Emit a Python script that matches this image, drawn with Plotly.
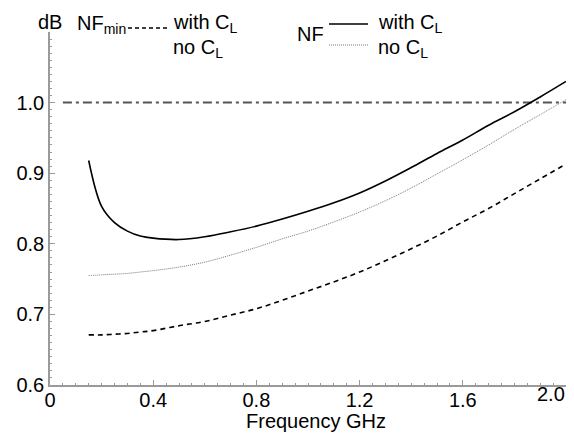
import plotly.graph_objects as go

# ---- data ----
freq = [0.15, 0.2, 0.25, 0.3, 0.35, 0.4, 0.5, 0.6, 0.7, 0.8, 0.9, 1.0,
        1.1, 1.2, 1.3, 1.4, 1.5, 1.6, 1.7, 1.8, 1.9, 2.0]
nf_with_cl = [0.918, 0.853, 0.830, 0.818, 0.811, 0.808, 0.806, 0.810, 0.817,
              0.825, 0.835, 0.846, 0.858, 0.872, 0.889, 0.908, 0.928, 0.947,
              0.968, 0.987, 1.008, 1.030]
nf_no_cl = [0.755, 0.756, 0.757, 0.758, 0.760, 0.762, 0.767, 0.774, 0.784,
            0.795, 0.807, 0.818, 0.831, 0.845, 0.861, 0.879, 0.899, 0.919,
            0.940, 0.962, 0.983, 1.004]
nfmin = [0.671, 0.671, 0.672, 0.673, 0.675, 0.677, 0.684, 0.690, 0.699,
         0.708, 0.720, 0.733, 0.746, 0.760, 0.776, 0.793, 0.811, 0.831,
         0.850, 0.871, 0.892, 0.913]
ref_x = [0.05, 2.0]
ref_y = [1.0, 1.0]

x_ticks = [0, 0.4, 0.8, 1.2, 1.6, 2.0]
x_ticklabels = ["0", "0.4", "0.8", "1.2", "1.6", ""]
y_ticks = [0.6, 0.7, 0.8, 0.9, 1.0]
y_ticklabels = ["0.6", "0.7", "0.8", "0.9", "1.0"]

FONT = "Liberation Sans, Arial, sans-serif"
W, H = 574, 434
ML, MR, MT, MB = 50, 8, 32, 49
PW, PH = W - ML - MR, H - MT - MB


def px(x):
    return (x - ML) / PW


def py(y):
    return (H - MB - y) / PH


fig = go.Figure()
fig.add_trace(go.Scatter(x=ref_x, y=ref_y, mode="lines",
                         line=dict(color="#555555", width=2, dash="9px,4px,3px,4px")))
fig.add_trace(go.Scatter(x=freq, y=nfmin, mode="lines", line_shape="spline",
                         line=dict(color="black", width=1.6, dash="5px,4px")))
fig.add_trace(go.Scatter(x=freq, y=nf_no_cl, mode="lines", line_shape="spline",
                         line=dict(color="#777777", width=1, dash="1px,1px")))
fig.add_trace(go.Scatter(x=freq, y=nf_with_cl, mode="lines", line_shape="spline",
                         line=dict(color="black", width=1.6)))

axis_common = dict(showline=True, linecolor="#9a9a9a", linewidth=1.5,
                   showgrid=False, zeroline=False, ticks="inside",
                   tickcolor="#9a9a9a", tickwidth=1, ticklen=5,
                   tickfont=dict(family=FONT, size=20, color="black"))

fig.update_xaxes(range=[0, 2.0], tickvals=x_ticks, ticktext=x_ticklabels,
                 ticklabelstandoff=-4,
                 minor=dict(dtick=0.05, tick0=0, ticks="inside", ticklen=2,
                            tickcolor="#9a9a9a"),
                 **axis_common)
fig.update_yaxes(range=[0.6, 1.1], tickvals=y_ticks, ticktext=y_ticklabels,
                 minor=dict(dtick=0.01, tick0=0.6, ticks="inside", ticklen=2,
                            tickcolor="#9a9a9a"),
                 **axis_common)

ann = []


def text(t, x, y, xanchor="left", size=20):
    ann.append(dict(text=t, x=px(x), y=py(y), xref="paper", yref="paper",
                    xanchor=xanchor, yanchor="middle", showarrow=False,
                    font=dict(family=FONT, size=size, color="black")))


text("2.0", 567, 394, xanchor="right")
text("dB", 50, 22, xanchor="center")
text("Frequency GHz", 316, 421, xanchor="center")
text("NF<sub>min</sub>", 75, 25)
text("with C<sub>L</sub>", 171, 23)
text("no C<sub>L</sub>", 171, 48)
text("NF", 295, 34)
text("with C<sub>L</sub>", 376, 23)
text("no C<sub>L</sub>", 376, 48)

shapes = [
    dict(type="line", xref="paper", yref="paper", x0=px(128), x1=px(167),
         y0=py(28), y1=py(28), line=dict(color="black", width=1.4, dash="4px,3px")),
    dict(type="line", xref="paper", yref="paper", x0=px(329), x1=px(368),
         y0=py(24), y1=py(24), line=dict(color="black", width=1.6)),
    dict(type="line", xref="paper", yref="paper", x0=px(329), x1=px(368),
         y0=py(45), y1=py(45), line=dict(color="#777777", width=1, dash="1px,1px")),
]

fig.update_layout(width=W, height=H, margin=dict(l=ML, r=MR, t=MT, b=MB),
                  plot_bgcolor="white", paper_bgcolor="white",
                  showlegend=False, annotations=ann, shapes=shapes)

fig.write_html("out.html", config={"displayModeBar": False},
               post_script="document.body.style.margin='0';"
                           "document.body.style.overflow='hidden';")
